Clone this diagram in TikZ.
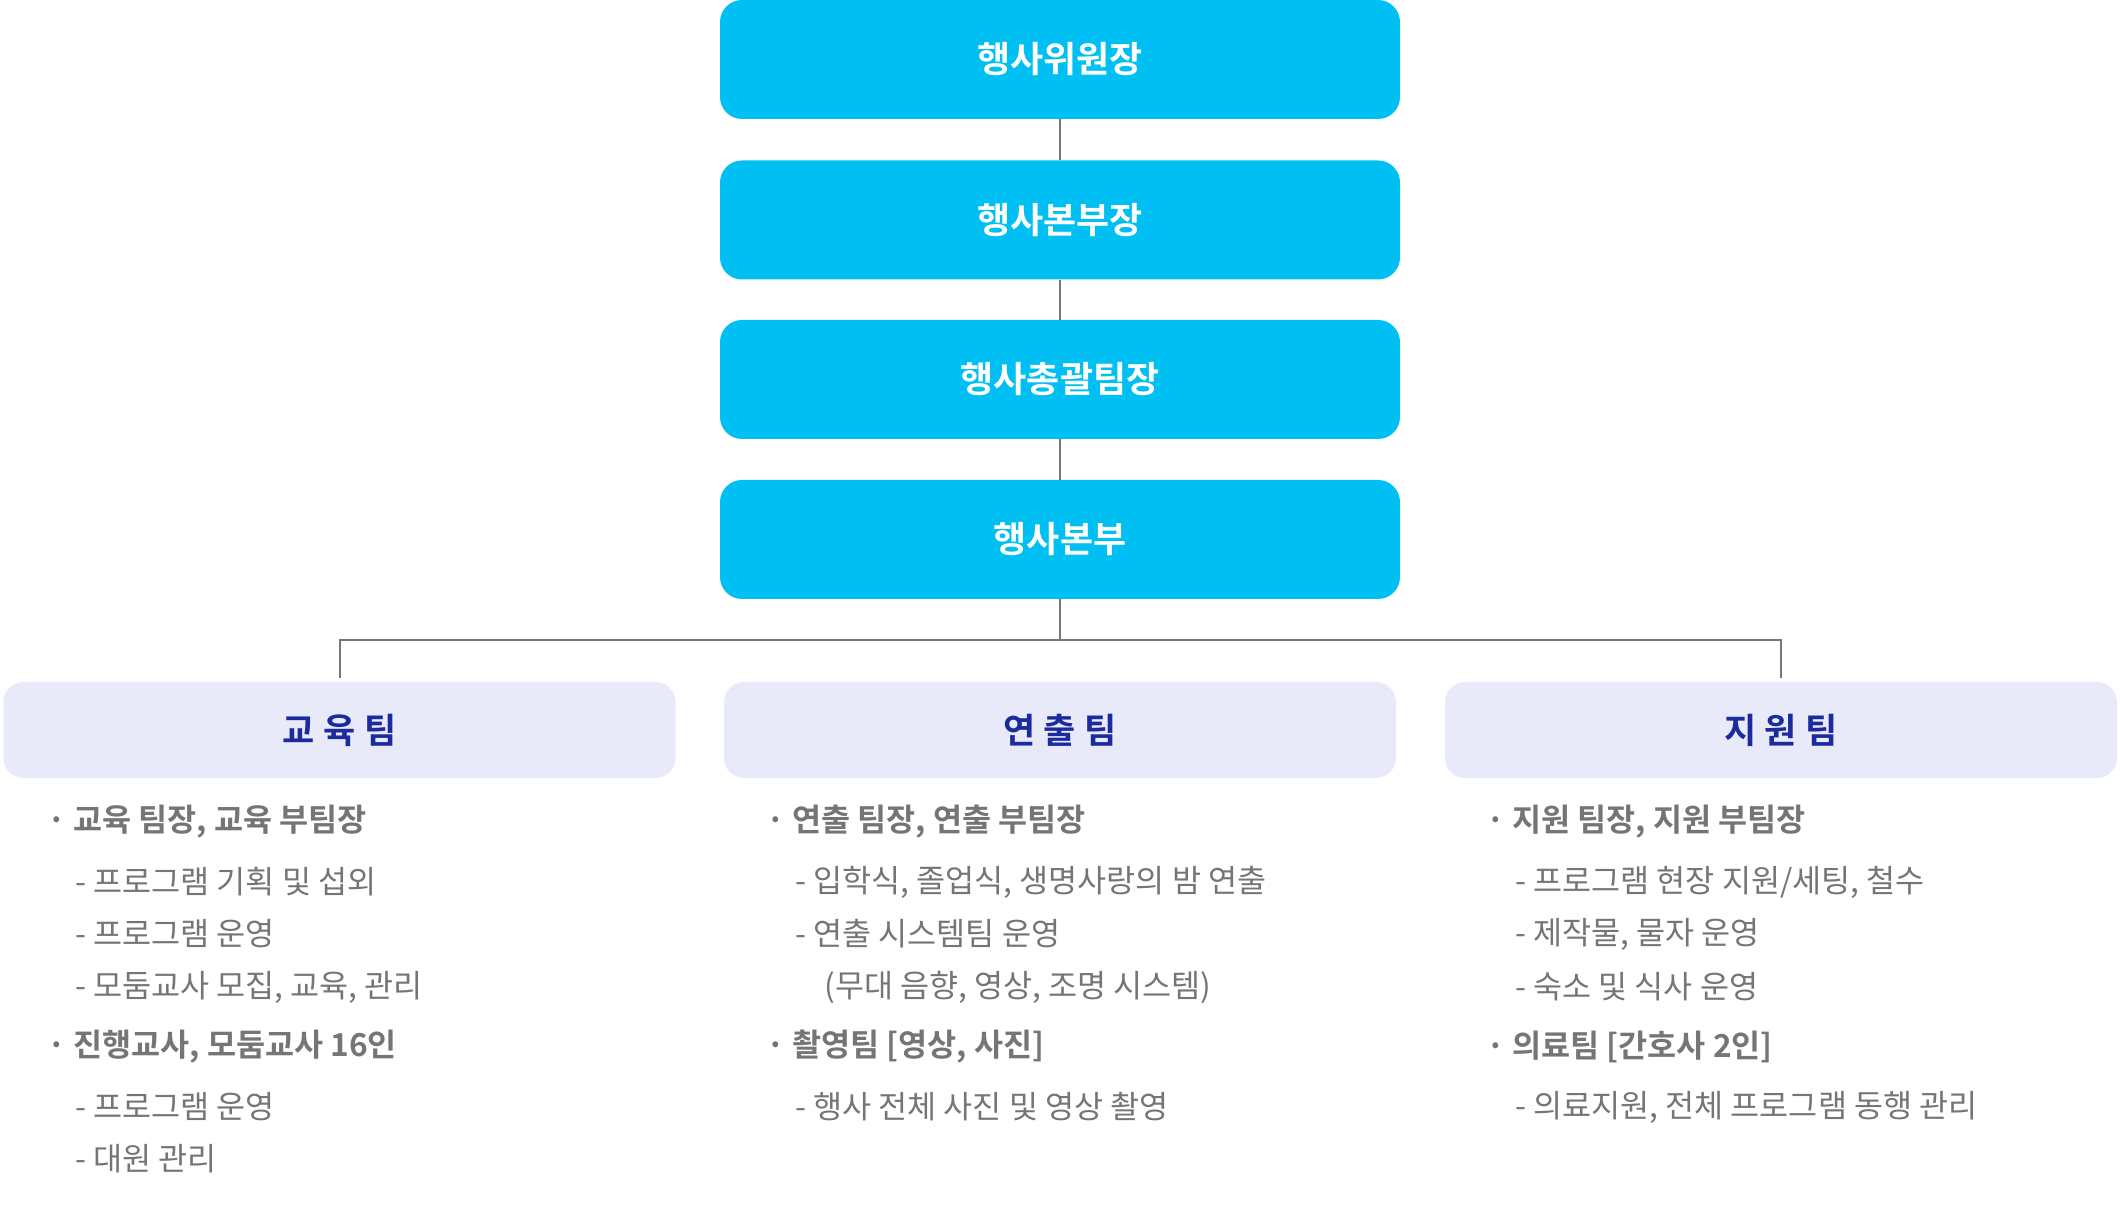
\documentclass[tikz,border=0pt]{standalone}
\usepackage{fontspec}
\setmainfont{Noto Sans CJK KR}[BoldFont={Noto Sans CJK KR Bold}]
\newfontfamily\teamfont{Noto Sans CJK KR Bold}[LetterSpace=24]
\usetikzlibrary{positioning}

\definecolor{headcyan}{HTML}{00C0F3}
\definecolor{teamfill}{HTML}{E8EAF9}
\definecolor{teamblue}{HTML}{1B2B9E}
\definecolor{linegray}{HTML}{777777}
\definecolor{textgray}{HTML}{757575}

\begin{document}
\begin{tikzpicture}[x=0.5pt,y=-0.5pt,
    headbox/.style={fill=headcyan, text=white, rounded corners=11pt,
        minimum width=340pt, minimum height=59.5pt, inner sep=0pt,
        font=\fontsize{18pt}{21pt}\selectfont\bfseries},
    teambox/.style={fill=teamfill, text=teamblue, rounded corners=10pt,
        minimum width=336pt, minimum height=48pt, inner sep=0pt,
        font=\fontsize{17.5pt}{20pt}\teamfont},
    link/.style={draw=linegray, line width=1pt},
    item/.style={anchor=west, inner sep=0pt, text=textgray,
        font=\fontsize{15.8pt}{18pt}\selectfont},
    itemhead/.style={item, font=\fontsize{15.8pt}{18pt}\selectfont\bfseries}]

    % keep the page as large as the reference
    \useasboundingbox (0,0) rectangle (2120,1218);

    % Draw the chain of head boxes
    \node[headbox] (chair) at (1060,59.5) {행사위원장};
    \node[headbox] (vice) at (1060,220) {행사본부장};
    \node[headbox] (lead) at (1060,379.5) {행사총괄팀장};
    \node[headbox] (office) at (1060,539.5) {행사본부};

    % Draw the three teams
    \node[teambox] (edu) at (339.5,730) {교육팀};
    \node[teambox] (stage) at (1060,730) {연출팀};
    \node[teambox] (care) at (1781,730) {지원팀};

    % Draw the connectors
    \coordinate (split) at (1060,640);
    \draw[link] (chair) -- (vice);
    \draw[link] (vice) -- (lead);
    \draw[link] (lead) -- (office);
    \draw[link] (office) -- (split);
    \draw[link, shorten >=2pt] (split) -| (edu);
    \draw[link, shorten >=2pt] (split) -| (care);

    % Tasks of the first team
    \node[itemhead] (edu1) at (47,822) {· 교육 팀장, 교육 부팀장};
    \node[item] (edu2) at (75,882) {- 프로그램 기획 및 섭외};
    \node[item] (edu3) at (75,934) {- 프로그램 운영};
    \node[item] (edu4) at (75,987) {- 모둠교사 모집, 교육, 관리};
    \node[itemhead] (edu5) at (47,1047) {· 진행교사, 모둠교사 16인};
    \node[item] (edu6) at (75,1107) {- 프로그램 운영};
    \node[item] (edu7) at (75,1159) {- 대원 관리};

    % Tasks of the second team
    \node[itemhead] (stage1) at (766,822) {· 연출 팀장, 연출 부팀장};
    \node[item] (stage2) at (795,882) {- 입학식, 졸업식, 생명사랑의 밤 연출};
    \node[item] (stage3) at (795,934) {- 연출 시스템팀 운영};
    \node[item] (stage4) at (824,987) {(무대 음향, 영상, 조명 시스템)};
    \node[itemhead] (stage5) at (766,1047) {· 촬영팀 [영상, 사진]};
    \node[item] (stage6) at (795,1107) {- 행사 전체 사진 및 영상 촬영};

    % Tasks of the third team
    \node[itemhead] (care1) at (1486,822) {· 지원 팀장, 지원 부팀장};
    \node[item] (care2) at (1515,882) {- 프로그램 현장 지원/세팅, 철수};
    \node[item] (care3) at (1515,934) {- 제작물, 물자 운영};
    \node[item] (care4) at (1515,987) {- 숙소 및 식사 운영};
    \node[itemhead] (care5) at (1486,1047) {· 의료팀 [간호사 2인]};
    \node[item] (care6) at (1515,1107) {- 의료지원, 전체 프로그램 동행 관리};

\end{tikzpicture}
\end{document}
